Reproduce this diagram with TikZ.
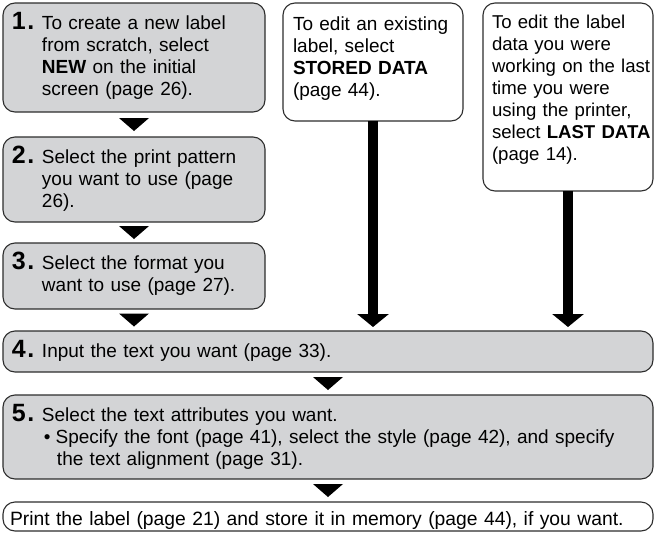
\documentclass[tikz,border=0pt]{standalone}
\usepackage{fontspec}
\setmainfont{Liberation Sans}
\usetikzlibrary{arrows.meta,calc}
\definecolor{boxgray}{RGB}{211,212,214}
\definecolor{edgegray}{RGB}{45,45,45}
\tikzset{
  card/.style={
    draw=edgegray,
    line width=1.1pt,
    rounded corners=12pt,
    anchor=north west,
    outer sep=0pt,
    inner xsep=9pt,
    inner ysep=0pt,
    align=left,
    text height=26pt,
    font=\fontsize{19}{22}\selectfont
  },
  card-gray/.style={card, fill=boxgray},
  card-white/.style={card, fill=white},
  thick-arrow/.style={
    line width=10pt,
    -{Triangle[width=31pt,length=13pt]},
    shorten >=4pt
  },
  down/.pic={\fill (-15,-6.5) -- (15,-6.5) -- (0,6.5) -- cycle;}
}
\newcommand{\stepno}[1]{\makebox[30pt][l]{\fontsize{25}{22}\selectfont\bfseries #1\kern1.5pt.}}
\newcommand{\cardlines}[1]{\begin{tabular}[t]{@{}l@{}}#1\end{tabular}}

\begin{document}
\begin{tikzpicture}[x=1pt,y=-1pt]
  \useasboundingbox (0,0) rectangle (656,533);
  % numbered steps
  \node[card-gray, text width=244pt, text depth=83pt] (s1) at (3,3)
    {\stepno{1}\cardlines{\makebox[204pt][s]{To create a new label}\\from scratch, select\\\textbf{NEW} on the initial\\screen (page 26).}};
  \node[card-gray, text width=244pt, text depth=59pt] (s2) at (3,137)
    {\stepno{2}\cardlines{Select the print pattern\\you want to use (page\\26).}};
  \node[card-gray, text width=244pt, text depth=40pt] (s3) at (3,243)
    {\stepno{3}\cardlines{Select the format you\\want to use (page 27).}};
  \node[card-gray, text width=632pt, text depth=15pt] (s4) at (3,331)
    {\stepno{4}\cardlines{Input the text you want (page 33).}};
  \node[card-gray, text width=632pt, text depth=58pt] (s5) at (3,395)
    {\stepno{5}\cardlines{Select the text attributes you want.\\
      \hspace{2pt}\textbullet\hspace{5pt}Specify the font (page 41), select the style (page 42), and specify\\
      \hspace{15pt}the text alignment (page 31).}};
  \node[card-white, text width=636pt, inner xsep=7pt, text height=23pt, text depth=6pt,
        font=\fontsize{19.3}{22}\selectfont] (s6) at (3,502)
    {\cardlines{Print the label (page 21) and store it in memory (page 44), if you want.}};
  % other ways in
  \node[card-white, text width=160pt, inner xsep=10pt, text height=27pt, text depth=91pt] (a) at (283,3)
    {\cardlines{To edit an existing\\label, select\\\textbf{STORED DATA}\\(page 44).}};
  \node[card-white, text width=152pt, inner xsep=9pt, text height=25pt, text depth=163pt,
        font=\fontsize{18.6}{22}\selectfont] (b) at (483,3)
    {\cardlines{To edit the label\\data you were\\working on the last\\time you were\\using the printer,\\select \textbf{LAST DATA}\\(page 14).}};
  \draw[thick-arrow] (a.south) -- (a.south |- s4.north);
  \draw[thick-arrow] (b.south) -- (b.south |- s4.north);
  % small down marks
  \pic at ($(s1.south)!.5!(s2.north)$) {down};
  \pic at ($(s2.south)!.5!(s3.north)$) {down};
  \pic at ($(s3.south)!.5!(s3.south |- s4.north)$) {down};
  \pic at ($(s4.south)!.5!(s5.north)$) {down};
  \pic at ($(s5.south)!.5!(s6.north)$) {down};
\end{tikzpicture}
\end{document}
